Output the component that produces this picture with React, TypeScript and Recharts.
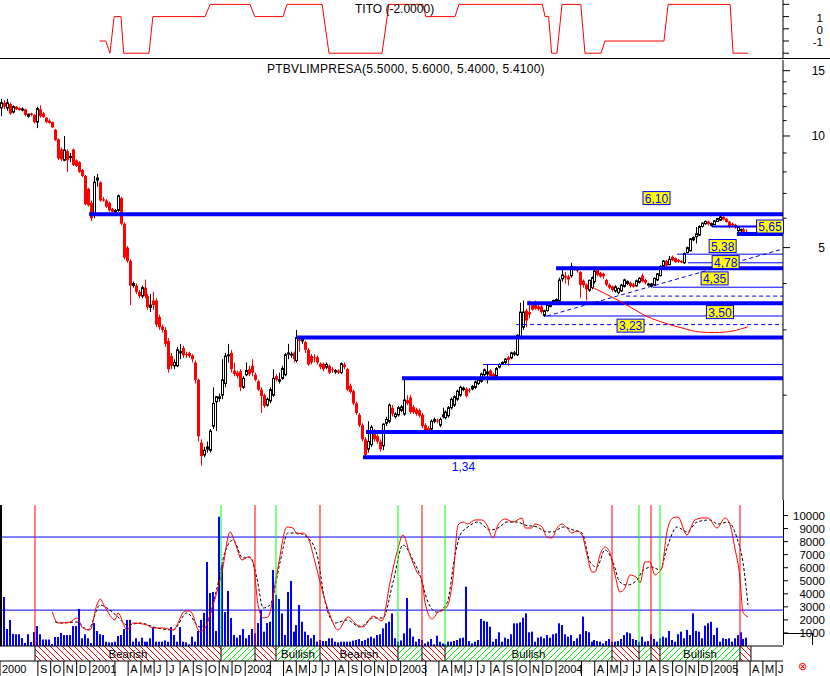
import React from 'react'
import {
  ComposedChart, Bar, Line, XAxis, YAxis, ReferenceLine, ReferenceArea, ReferenceDot,
} from 'recharts'

const FONT = '"Liberation Sans", Arial, Helvetica, sans-serif'
const BLUE = '#0000ff'
const RED = '#ff0000'
const GREEN = '#00ff00'
const W = 830
const AXIS_W = 47
const X_DOMAIN: [number, number] = [-0.5, 262.25]
const PRICE_DOMAIN: [number, number] = [1.043, 16.03]
const OSC_DOMAIN: [number, number] = [-1149, 11188]

// weekly bars, the first one is the week of 4 June 2000
const START = Date.UTC(2000, 5, 4)
const weekOf = (ym: string) => {
  const [y, m] = ym.split('-').map(Number)
  return Math.max(X_DOMAIN[0], (Date.UTC(y, m - 1, 1) - START) / (7 * 86400000) - 0.5)
}

// [open, high, low, close] per week
const candles = [
  [11.9,12.6,11.3,12.3],[12.3,12.5,11.8,12.0],[11.9,12.6,11.7,12.3],[12.2,12.3,11.4,11.5],[11.6,12.1,11.5,12.0],
  [12.0,12.05,11.75,11.8],[11.9,11.95,11.7,11.75],[11.8,11.95,11.65,11.82],[11.8,11.85,11.3,11.4],[11.3,11.5,11.2,11.45],
  [11.5,11.55,11.3,11.4],[11.4,11.45,10.8,10.9],[10.9,12.0,10.5,11.85],[11.8,12.1,11.2,11.3],[11.5,11.6,11.2,11.25],
  [11.2,11.25,10.85,10.9],[11.0,11.1,10.8,10.85],[10.9,10.95,10.5,10.55],[10.4,10.45,9.7,9.75],[9.8,9.85,8.6,8.7],
  [9.2,9.3,8.55,8.65],[8.6,10.0,8.55,9.17],[9.1,9.2,8.0,8.6],[8.75,9.0,8.5,8.8],[9.2,9.25,8.3,8.35],
  [8.6,8.65,8.25,8.3],[8.5,8.55,7.95,8.0],[8.1,8.15,7.75,7.8],[7.8,7.85,6.5,6.55],[7.2,7.25,6.45,6.5],
  [6.6,6.7,5.9,6.0],[6.1,7.8,6.0,7.5],[7.6,7.9,7.3,7.7],[7.5,7.55,6.65,6.7],[6.75,6.85,6.65,6.7],
  [6.7,6.75,6.4,6.45],[6.6,6.65,6.25,6.3],[6.35,6.4,6.2,6.25],[6.25,6.35,6.2,6.3],[6.3,6.95,6.25,6.9],
  [6.8,6.85,5.75,5.8],[5.8,5.85,4.65,4.7],[5.0,5.05,4.55,4.6],[4.6,4.65,3.5,3.95],[3.95,4.05,3.9,4.0],
  [3.95,4.0,3.75,3.8],[3.8,3.85,3.65,3.7],[3.7,3.95,3.65,3.9],[3.9,4.1,3.65,3.7],[3.7,3.75,3.4,3.45],
  [3.45,3.75,3.35,3.5],[3.6,3.8,3.4,3.5],[3.6,3.65,3.05,3.1],[3.25,3.3,3.0,3.05],[3.06,3.1,2.95,3.0],
  [3.0,3.05,2.7,2.75],[2.8,2.85,2.3,2.35],[2.55,2.6,2.35,2.4],[2.4,2.5,2.35,2.45],[2.4,2.7,2.38,2.65],
  [2.6,2.75,2.5,2.62],[2.68,2.72,2.52,2.56],[2.58,2.62,2.52,2.57],[2.6,2.62,2.52,2.55],[2.56,2.58,2.45,2.5],
  [2.45,2.48,2.15,2.2],[2.2,2.22,1.5,1.55],[1.49,1.52,1.29,1.37],[1.38,1.45,1.36,1.42],[1.43,1.5,1.4,1.45],
  [1.42,1.62,1.4,1.6],[1.65,2.1,1.62,1.9],[1.92,1.99,1.6,1.98],[1.96,2.02,1.92,1.98],[2.0,2.5,1.95,2.2],
  [2.15,2.6,2.1,2.55],[2.56,2.75,2.45,2.57],[2.6,2.65,2.3,2.35],[2.33,2.45,2.25,2.28],[2.3,2.33,2.22,2.25],
  [2.32,2.35,2.05,2.1],[2.1,2.25,2.08,2.22],[2.27,2.45,2.25,2.33],[2.35,2.4,2.25,2.28],[2.4,2.5,2.25,2.3],
  [2.27,2.3,2.18,2.2],[2.18,2.2,2.05,2.07],[2.07,2.1,1.79,1.99],[2.0,2.02,1.85,1.87],[1.88,1.97,1.86,1.95],
  [1.93,2.1,1.9,2.07],[2.0,2.35,1.98,2.22],[2.25,2.28,2.18,2.2],[2.18,2.3,2.15,2.2],[2.22,2.4,2.2,2.36],
  [2.27,2.6,2.25,2.57],[2.58,2.75,2.5,2.6],[2.57,2.62,2.52,2.58],[2.6,2.62,2.45,2.5],[2.48,3.0,2.45,2.86],
  [2.82,2.85,2.62,2.8],[2.8,2.88,2.75,2.83],[2.78,2.8,2.6,2.65],[2.65,2.68,2.4,2.42],[2.55,2.58,2.42,2.45],
  [2.53,2.58,2.45,2.52],[2.53,2.56,2.42,2.45],[2.43,2.45,2.35,2.38],[2.43,2.45,2.32,2.35],[2.38,2.45,2.35,2.42],
  [2.4,2.42,2.28,2.3],[2.35,2.38,2.3,2.34],[2.31,2.35,2.28,2.33],[2.33,2.35,2.28,2.3],[2.3,2.45,2.28,2.43],
  [2.42,2.45,2.35,2.38],[2.35,2.37,2.05,2.07],[2.12,2.15,2.02,2.04],[2.05,2.07,1.88,1.9],[1.9,1.92,1.77,1.79],
  [1.77,1.79,1.64,1.66],[1.66,1.68,1.5,1.52],[1.52,1.54,1.36,1.38],[1.43,1.7,1.4,1.5],[1.47,1.66,1.45,1.64],
  [1.6,1.62,1.5,1.52],[1.55,1.57,1.48,1.5],[1.5,1.52,1.41,1.43],[1.46,1.68,1.42,1.67],[1.68,1.75,1.65,1.72],
  [1.7,1.9,1.68,1.88],[1.85,1.88,1.75,1.78],[1.75,1.8,1.73,1.78],[1.77,1.87,1.75,1.85],[1.82,1.88,1.8,1.86],
  [1.78,2.2,1.76,1.94],[1.94,2.0,1.88,1.9],[1.97,2.0,1.78,1.8],[1.86,1.88,1.78,1.8],[1.83,1.85,1.76,1.78],
  [1.82,1.84,1.74,1.76],[1.77,1.79,1.63,1.65],[1.66,1.68,1.58,1.6],[1.63,1.65,1.58,1.6],[1.62,1.72,1.6,1.7],
  [1.7,1.74,1.68,1.72],[1.71,1.73,1.68,1.7],[1.66,1.74,1.64,1.72],[1.75,1.85,1.73,1.77],[1.74,1.82,1.72,1.8],
  [1.76,1.87,1.74,1.85],[1.85,1.97,1.83,1.95],[1.88,2.0,1.86,1.98],[1.95,2.07,1.93,2.05],[2.0,2.12,1.98,2.1],
  [2.07,2.11,2.05,2.09],[2.08,2.1,1.97,1.99],[2.07,2.09,2.03,2.06],[2.08,2.13,2.06,2.11],[2.1,2.19,2.08,2.17],
  [2.15,2.22,2.13,2.2],[2.18,2.3,2.16,2.28],[2.27,2.36,2.25,2.34],[2.28,2.42,2.15,2.31],[2.33,2.35,2.23,2.25],
  [2.28,2.3,2.22,2.24],[2.25,2.38,2.23,2.36],[2.38,2.44,2.36,2.42],[2.44,2.47,2.42,2.45],[2.45,2.52,2.43,2.5],
  [2.53,2.55,2.4,2.49],[2.52,2.62,2.5,2.6],[2.58,2.63,2.55,2.6],[2.57,2.92,2.55,2.9],[2.85,3.55,2.83,3.35],
  [3.05,3.6,3.0,3.35],[3.38,3.42,3.05,3.18],[3.35,3.6,3.22,3.3],[3.5,3.53,3.38,3.4],[3.5,3.6,3.4,3.42],
  [3.47,3.5,3.38,3.41],[3.47,3.5,3.32,3.35],[3.28,3.4,3.25,3.38],[3.38,3.52,3.36,3.5],[3.47,3.57,3.45,3.55],
  [3.52,3.62,3.5,3.6],[3.58,3.65,3.52,3.62],[3.6,4.15,3.55,4.09],[4.12,4.4,4.05,4.22],[4.2,4.3,4.0,4.15],
  [4.18,4.22,3.95,4.1],[4.2,4.55,4.15,4.45],[4.42,4.46,4.33,4.37],[4.4,4.43,4.28,4.33],[4.3,4.32,3.66,3.97],
  [4.07,4.1,3.9,3.96],[3.98,4.0,3.6,3.86],[3.84,4.1,3.8,4.08],[3.9,4.18,3.86,4.15],[4.05,4.36,4.0,4.32],
  [4.35,4.4,4.18,4.22],[4.27,4.3,4.14,4.18],[4.25,4.28,4.12,4.18],[4.09,4.12,3.93,3.97],[3.97,4.0,3.86,3.9],
  [3.93,3.95,3.8,3.84],[3.82,3.96,3.78,3.92],[3.78,3.9,3.74,3.88],[3.82,3.99,3.8,3.96],[3.93,4.12,3.9,4.09],
  [4.0,4.08,3.96,4.05],[4.02,4.05,3.9,3.94],[3.98,4.02,3.9,3.92],[3.94,4.1,3.92,4.07],[4.03,4.16,4.0,4.13],
  [4.2,4.25,4.03,4.05],[4.09,4.12,3.98,4.02],[3.96,4.02,3.93,3.99],[3.93,4.01,3.9,3.99],[3.96,4.15,3.94,4.13],
  [4.09,4.27,4.06,4.25],[4.2,4.48,4.18,4.45],[4.45,4.63,4.42,4.6],[4.6,4.63,4.45,4.47],[4.5,4.75,4.48,4.65],
  [4.72,4.76,4.6,4.62],[4.68,4.7,4.55,4.57],[4.63,4.66,4.55,4.58],[4.6,4.62,4.54,4.56],[4.55,4.85,4.52,4.82],
  [4.85,5.03,4.82,5.0],[4.9,5.3,4.88,5.28],[5.25,5.36,5.2,5.32],[5.35,5.68,5.13,5.45],[5.4,5.74,5.38,5.7],
  [5.7,5.85,5.66,5.82],[5.8,5.92,5.76,5.88],[5.88,5.9,5.74,5.78],[5.74,5.84,5.7,5.8],[5.77,5.93,5.75,5.9],
  [5.88,6.0,5.86,5.99],[5.93,6.12,5.9,6.05],[6.05,6.08,5.92,5.95],[5.98,6.0,5.84,5.86],[5.88,5.9,5.64,5.72],
  [5.8,5.84,5.7,5.75],[5.76,5.8,5.62,5.66],[5.55,5.7,5.5,5.68],[5.55,5.62,5.5,5.6],[5.6,5.66,5.48,5.52],
  [5.5,5.6,5.4,5.41],
]

// weekly volume, read against the lower panel scale
const volumes = [
  7360,3750,1300,2000,920,900,900,610,230,900, 310,1070,1530,900,500,500,500,150,690,690,
  1000,840,840,840,1530,1530,2840,590,900,590, 230,1760,1150,900,840,330,280,280,330,770,
  840,1300,2000,2000,330,590,330,640,330,330, 590,1450,330,330,330,430,330,1450,840,330,
  1450,330,280,130,720,330,1150,
  2000,2530,6440,4060,4140,1150,9910,6200,2600,4220, 2150,840,640,840,1300,590,840,1300,970,1760,
  2760,1100,1760,1860,5830,3910,3600,2500,840,4140, 4980,1100,1600,3140,1860,1100,840,590,840,330,
  460,380,380,590,590,330,280,330,330,330, 330,410,460,530,380,460,590,720,590,840,
  900,1350,1740,1860,2500,590,330,430,970,3680, 1350,720,330,
  540,460,200,330,540,130,790,330,200,130, 330,330,380,460,590,640,4550,380,200,330,
  460,2070,1920,1860,1480,330,540,1050,330,640, 540,900,1740,1740,1810,2170,2500,1050,1100,330,
  640,720,590,840,640,900,
  970,1740,1610,900,720,840,380,590,900,2250, 1150,1050,330,460,380,330,200,380,540,330,
  330,380,540,840,1050,970,540,460,330,720, 330,380,900,540,330,590,720,640,
  1150,460,330,900,1100,590,1230,840,2500,1150, 1100,590,1560,1740,1860,840,1400,330,590,540,
  590,330,590,840,1050,540,640,
]

// TITO indicator, [week, value]
const tito = [
  [32.9,-1],[35,-1],[36.4,-2],[37.8,1],[40.1,1],[41,-2],[49.5,-2],[50.8,1],[68.3,1],[70,2],
  [83.4,2],[85,1],[94.5,1],[95.8,2],[107.6,2],[109.9,-2],[127.7,-2],[130,2],[141.4,2],[142.4,1],
  [152.2,1],[153.5,2],[181.5,2],[182.4,1],[183.6,1],[184.6,-2],[186.4,-2],[188.1,2],[194.4,2],[195.8,-2],
  [201.2,-2],[202.5,-1],[222.3,-1],[223.7,2],[244.5,2],[245.5,-2],[250.5,-2],
]

// oscillator, fast (red) and slow (dashed black), [week, value]
const fastLine = [
  [17.0,2630],[19.0,1760],[23.0,1840],[25.3,2150],[27.3,1380],[29.7,1230],[32.0,3140],[33.1,3600],[34.7,2990],[38.1,2000],
  [39.1,2530],[42.1,1230],[44.1,1760],[48.8,1610],[50.8,1380],[54.2,1380],[57.6,1230],[61.6,2680],[63.3,2680],[66.6,1070],
  [68.3,1380],[71.0,3140],[74.0,5670],[76.7,8740],[78.4,7890],[80.7,6590],[82.7,6820],[84.4,6440],[86.1,3140],[87.8,2150],
  [89.4,2220],[92.5,5670],[95.8,9120],[97.8,9040],[99.2,8580],[101.2,8660],[102.9,8280],[105.2,6440],[106.9,4900],[110.2,2380],
  [112.9,1230],[116.3,2220],[119.3,1610],[121.3,1460],[124.7,2300],[127.7,1920],[130.4,4900],[133.1,7510],[134.7,8510],[137.1,6970],
  [139.4,5670],[141.1,5060],[142.1,3370],[144.5,2070],[146.5,2600],[148.2,2760],[149.8,3140],[151.5,5210],[153.2,9270],[154.9,9500],
  [156.5,9350],[158.9,9660],[161.2,9660],[162.9,9270],[164.9,8280],[166.6,9270],[169.0,9730],[171.6,9500],[174.7,9810],[175.7,9040],
  [178.0,9040],[179.0,9350],[181.4,9120],[183.0,8350],[184.7,8280],[186.4,9040],[188.1,9350],[189.8,9040],[191.4,8660],[193.1,8810],
  [194.8,8510],[196.5,6970],[198.2,5670],[199.2,5670],[200.8,6970],[202.5,7590],[204.2,7130],[205.9,5440],[207.5,4140],[209.2,4440],
  [210.9,5440],[213.3,5210],[214.3,4830],[215.9,6440],[217.6,6440],[219.3,5440],[220.3,5590],[221.6,5980],[223.3,8740],[225.3,9810],
  [227.0,9890],[230.0,8510],[232.7,9660],[235.4,9810],[237.1,9810],[240.1,9040],[242.8,9810],[244.5,9270],[246.1,7510],[247.8,5210],
  [248.8,2600],[249.5,2380],[250.5,2220],
]
const slowLine = [
  [18.0,1840],[20.6,1760],[25.3,1840],[29.0,1230],[33.1,3140],[35.4,2910],[39.1,2220],[42.1,1610],[46.5,1760],[52.2,1380],
  [57.6,1230],[62.2,2530],[66.6,1460],[69.0,1840],[72.3,4440],[75.0,7200],[77.7,8120],[81.0,6740],[83.4,6820],[85.7,5210],
  [87.8,2910],[90.1,3140],[93.5,6440],[96.1,8660],[99.2,8660],[102.5,8350],[105.9,6970],[108.6,3370],[111.9,1760],[115.9,1990],
  [120.3,1460],[124.7,2150],[128.0,2150],[131.4,4900],[134.7,7740],[138.1,6590],[140.4,5440],[143.1,3370],[146.1,2600],[149.5,3290],
  [152.2,6970],[153.9,8510],[156.5,9120],[159.9,9500],[163.9,8890],[166.6,9040],[169.6,9500],[173.0,9500],[175.7,9270],[179.7,9120],
  [183.1,8740],[185.1,8740],[188.4,9120],[191.8,8890],[194.8,8660],[197.5,6440],[199.8,6050],[202.5,7360],[205.2,6440],[207.5,4900],
  [209.9,4670],[213.3,5060],[215.3,5820],[218.3,6050],[221.0,5820],[223.3,7510],[226.7,9120],[230.0,8740],[233.4,9500],[237.8,9660],
  [240.4,9350],[243.8,9500],[246.8,8280],[248.8,6440],[250.5,3140],
]
const oscBands = [8350, 2750]

// buy / sell signals (week) and the trend band they open
const signalWeeks = [11.24, 73.66, 85.07, 92.11, 106.88, 133.05, 141.11, 148.83, 204.87, 213.93, 217.95, 220.97, 247.82]
const signalKinds = ['sell','buy','sell','buy','sell','buy','sell','buy','sell','buy','sell','buy','sell']
const bandNames = ['Bearish','','','Bullish','Bearish','','','Bullish','','','','Bullish','']
const bandEnd = 251.5

// support / resistance levels drawn on the price panel: [from week, price]
const thickLevels = [[29.4,6.15],[99.2,2.86],[134.4,2.22],[122.3,1.59],[121.3,1.36],[186.1,4.40],[176.4,3.54],[246.8,5.44]]
const mediumLevels = [[238.4,5.70]]
const thinLevels = [[161.6,2.42],[226.7,4.80],[230.4,4.55],[218.6,3.91],[182.4,3.27]]
const dashedLevels = [[209.6,3.70],[172.7,3.10]]
const trendLine = [[183.1,3.27],[262.25,4.96]]
const arc = [[198.2,3.91],[204.2,3.70],[210.9,3.46],[216.6,3.26],[222.6,3.13],[228.7,3.03],[234.4,2.96],[239.4,2.95],[245.5,2.98],[250.5,3.06]]
const tags: [string, number, number][] = [
  ['6,10',219.8,6.80],['5,65',257.9,5.70],['5,38',242,5.05],['4,78',243,4.57],['4,35',239.3,4.13],['3,50',241.1,3.35],['3,23',211.1,3.08],
]
const lowNote: [string, number, number] = ['1,34', 155.0, 1.28]

// month axis: [month start, label]
const monthTicks: [string, string][] = [
  ['2000-06','2000'],['2000-09','S'],['2000-10','O'],['2000-11','N'],['2000-12','D'],
  ['2001-01','2001'],['2001-03',''],['2001-04','A'],['2001-05','M'],['2001-06','J'],['2001-07','J'],['2001-08','A'],['2001-09','S'],['2001-10','O'],['2001-11','N'],['2001-12','D'],
  ['2002-01','2002'],['2002-03',''],['2002-04','A'],['2002-05','M'],['2002-06','J'],['2002-07','J'],['2002-08','A'],['2002-09','S'],['2002-10','O'],['2002-11','N'],['2002-12','D'],
  ['2003-01','2003'],['2003-03',''],['2003-04','A'],['2003-05','M'],['2003-06','J'],['2003-07','J'],['2003-08','A'],['2003-09','S'],['2003-10','O'],['2003-11','N'],['2003-12','D'],
  ['2004-01','2004'],['2004-03',''],['2004-04','A'],['2004-05','M'],['2004-06','J'],['2004-07','J'],['2004-08','A'],['2004-09','S'],['2004-10','O'],['2004-11','N'],['2004-12','D'],
  ['2005-01','2005'],['2005-03',''],['2005-04','A'],['2005-05','M'],['2005-06','J'],
]

const candleData = candles.map(([o, h, l, c], w) => ({ w, o, h, l, c }))
const volumeData = volumes.map((v, w) => ({ w, v }))
const titoData = tito.map(([w, v]) => ({ w, v }))
const fastData = fastLine.map(([w, k]) => ({ w, k }))
const slowData = slowLine.map(([w, d]) => ({ w, d }))
const arcData = arc.map(([w, p]) => ({ w, p }))
const tickWeeks = monthTicks.map(([d]) => weekOf(d))
const tickLabel = new Map(monthTicks.map(([d, label]) => [weekOf(d), label]))

const txt = { fontFamily: FONT, fill: '#000' }

function Candle(props: any) {
  const { x, y, width, height, payload } = props
  if (!payload || !isFinite(y) || !isFinite(height)) return null
  const { o, h, l, c } = payload
  const top = Math.log(h)
  const span = top - Math.log(l) || 1
  const py = (v: number) => y + ((top - Math.log(v)) / span) * height
  const cx = Math.round(x + width / 2) + 0.5
  const b0 = py(Math.max(o, c))
  const bh = Math.max(1, py(Math.min(o, c)) - b0)
  if (c >= o) {
    return (
      <g>
        <line x1={cx} x2={cx} y1={y} y2={y + height} stroke="#000" />
        <rect x={cx - 1} y={b0} width={2} height={bh} fill="#fff" stroke="#000" />
      </g>
    )
  }
  return (
    <g>
      <line x1={cx} x2={cx} y1={y} y2={y + height} stroke={RED} />
      <rect x={cx - 1.5} y={b0} width={3} height={bh} fill={RED} />
    </g>
  )
}

function VolumeBar(props: any) {
  const { x, y, width, height } = props
  if (!isFinite(y) || !isFinite(height) || height <= 0) return null
  return <rect x={Math.round(x + width / 2 - 1)} y={y} width={2} height={height} fill={BLUE} />
}

function TitoTick({ x, y, payload }: any) {
  const v = payload.value
  return (
    <g>
      <line x1={x} x2={x + 6} y1={y} y2={y} stroke="#000" />
      {Math.abs(v) < 2 && <text x={x + 40} y={y + 5} textAnchor="end" fontSize={11.5} {...txt}>{v}</text>}
    </g>
  )
}

function PriceTick({ x, y, payload }: any) {
  const major = payload.value % 5 === 0
  return (
    <g>
      <line x1={x} x2={x + (major ? 7 : 3.5)} y1={y} y2={y} stroke="#000" />
      {major && <text x={x + 42} y={y + 4} textAnchor="end" fontSize={12} {...txt}>{payload.value}</text>}
    </g>
  )
}

function OscTick({ x, y, payload }: any) {
  return (
    <g>
      <line x1={x} x2={x + 5} y1={y} y2={y} stroke="#000" />
      <text x={x + 42} y={y + 4} textAnchor="end" fontSize={11.5} {...txt}>{payload.value}</text>
    </g>
  )
}

function MonthTick({ x, y, payload }: any) {
  const label = tickLabel.get(payload.value) ?? ''
  return (
    <g>
      <line x1={x} x2={x} y1={y} y2={y + 15} stroke="#000" />
      {label && <text x={x + 2} y={y + 12} fontSize={11} {...txt}>{label}</text>}
    </g>
  )
}

const tagShape = (text: string) => (p: any) => (
  <g>
    <rect x={p.cx - 13.5} y={p.cy - 6.5} width={27} height={13} fill="#ffff00" stroke={BLUE} />
    <text x={p.cx} y={p.cy + 4.5} textAnchor="middle" fontSize={12} fontFamily={FONT} fill={BLUE}>{text}</text>
  </g>
)

const margin = { top: 0, right: 0, bottom: 0, left: 0 }

export default function App() {
  return (
    <div style={{ position: 'absolute', left: 0, top: 0, width: 830, height: 676, background: '#fff', overflow: 'hidden', fontFamily: FONT }}>
      {/* TITO panel */}
      <div style={{ position: 'absolute', left: 0, top: 0 }}>
        <ComposedChart width={W} height={59} margin={margin} data={titoData}>
          <XAxis type="number" dataKey="w" domain={X_DOMAIN} allowDataOverflow hide />
          <YAxis orientation="right" width={AXIS_W} domain={[-2.475, 2.36]} allowDataOverflow interval={0}
            ticks={[-2, -1, 0, 1, 2]} tick={TitoTick} tickLine={false} tickSize={0} tickMargin={0}
            axisLine={{ stroke: '#000' }} />
          <Line dataKey="v" type="linear" stroke={RED} strokeWidth={1} dot={false} activeDot={false} isAnimationActive={false} />
        </ComposedChart>
      </div>
      <div style={{ position: 'absolute', left: 0, top: 58, width: 830, height: 1, background: '#000' }} />
      <div style={{ position: 'absolute', left: 355, top: 2, fontSize: 12, color: '#000', whiteSpace: 'nowrap' }}>TITO (-2.0000)</div>

      {/* price panel */}
      <div style={{ position: 'absolute', left: 0, top: 60 }}>
        <ComposedChart width={W} height={440} margin={margin} data={candleData}>
          <XAxis type="number" dataKey="w" domain={X_DOMAIN} allowDataOverflow hide />
          <YAxis orientation="right" width={AXIS_W} scale="log" domain={PRICE_DOMAIN} allowDataOverflow interval={0}
            ticks={[2, 3, 4, 5, 6, 7, 8, 9, 10, 11, 12, 13, 14, 15]} tick={PriceTick} tickLine={false}
            tickSize={0} tickMargin={0} axisLine={{ stroke: '#000' }} />
          <Bar dataKey={(d: any) => [d.l, d.h]} barSize={3} shape={Candle} isAnimationActive={false} />
          {thickLevels.map(([w, p], i) => (
            <ReferenceLine key={'t' + i} segment={[{ x: w, y: p }, { x: X_DOMAIN[1], y: p }]} stroke={BLUE} strokeWidth={4} />
          ))}
          {mediumLevels.map(([w, p], i) => (
            <ReferenceLine key={'m' + i} segment={[{ x: w, y: p }, { x: X_DOMAIN[1], y: p }]} stroke={BLUE} strokeWidth={2} />
          ))}
          {thinLevels.map(([w, p], i) => (
            <ReferenceLine key={'n' + i} segment={[{ x: w, y: p }, { x: X_DOMAIN[1], y: p }]} stroke={BLUE} strokeWidth={1} />
          ))}
          {dashedLevels.map(([w, p], i) => (
            <ReferenceLine key={'d' + i} segment={[{ x: w, y: p }, { x: X_DOMAIN[1], y: p }]} stroke={BLUE} strokeWidth={1} strokeDasharray="4 3" />
          ))}
          <ReferenceLine segment={trendLine.map(([x, y]) => ({ x, y }))} stroke={BLUE} strokeWidth={1} strokeDasharray="4 3" />
          <Line data={arcData} dataKey="p" type="monotone" stroke={RED} strokeWidth={1} dot={false} activeDot={false} isAnimationActive={false} />
          {tags.map(([t, w, p]) => (
            <ReferenceDot key={t} x={w} y={p} r={0} shape={tagShape(t)} />
          ))}
          <ReferenceDot x={lowNote[1]} y={lowNote[2]} r={0}
            shape={(p: any) => <text x={p.cx} y={p.cy + 4} textAnchor="middle" fontSize={12} fontFamily={FONT} fill={BLUE}>{lowNote[0]}</text>} />
        </ComposedChart>
      </div>
      <div style={{ position: 'absolute', left: 267, top: 62, fontSize: 12, letterSpacing: 0.25, color: '#000', whiteSpace: 'nowrap' }}>
        PTBVLIMPRESA(5.5000, 5.6000, 5.4000, 5.4100)
      </div>

      {/* oscillator + volume panel */}
      <div style={{ position: 'absolute', left: 0, top: 500 }}>
        <ComposedChart width={W} height={176} margin={margin} data={volumeData}>
          <defs>
            <pattern id="hatchBear" patternUnits="userSpaceOnUse" width="6" height="6">
              <path d="M0,0 L6,6 M-1,5 L1,7 M5,-1 L7,1" stroke={RED} strokeWidth={1} />
            </pattern>
            <pattern id="hatchBull" patternUnits="userSpaceOnUse" width="6" height="6">
              <path d="M0,6 L6,0 M-1,1 L1,-1 M5,7 L7,5" stroke={GREEN} strokeWidth={1} />
            </pattern>
          </defs>
          <XAxis type="number" dataKey="w" domain={X_DOMAIN} allowDataOverflow height={15}
            ticks={tickWeeks} interval={0} tick={MonthTick} tickLine={false} tickSize={0} tickMargin={0}
            axisLine={{ stroke: '#000' }} />
          <YAxis orientation="right" width={AXIS_W} domain={OSC_DOMAIN} allowDataOverflow interval={0}
            ticks={[1000, 2000, 3000, 4000, 5000, 6000, 7000, 8000, 9000, 10000]} tick={OscTick}
            tickLine={false} tickSize={0} tickMargin={0} axisLine={false} />
          {signalWeeks.map((w, i) => (
            <ReferenceArea key={'b' + i} x1={w} x2={signalWeeks[i + 1] ?? bandEnd} y1={OSC_DOMAIN[0]} y2={0}
              fill={signalKinds[i] === 'sell' ? 'url(#hatchBear)' : 'url(#hatchBull)'} fillOpacity={1} stroke="none"
              label={bandNames[i] ? { value: bandNames[i], position: 'center', fontSize: 11.5, fill: '#000', fontFamily: FONT } : undefined} />
          ))}
          <Bar dataKey="v" barSize={2} fill={BLUE} shape={VolumeBar} isAnimationActive={false} />
          {oscBands.map((v) => (
            <ReferenceLine key={v} y={v} stroke={BLUE} strokeWidth={1} />
          ))}
          <Line data={slowData} dataKey="d" type="monotone" stroke="#000" strokeWidth={1} strokeDasharray="3 2" dot={false} activeDot={false} isAnimationActive={false} />
          <Line data={fastData} dataKey="k" type="monotone" stroke={RED} strokeWidth={1} dot={false} activeDot={false} isAnimationActive={false} />
          {signalWeeks.map((w, i) => (
            <ReferenceLine key={'s' + i} segment={[{ x: w, y: 0 }, { x: w, y: 10800 }]}
              stroke={signalKinds[i] === 'sell' ? RED : GREEN} strokeWidth={1} />
          ))}
          {[...signalWeeks, bandEnd].map((w, i) => (
            <ReferenceLine key={'v' + i} segment={[{ x: w, y: OSC_DOMAIN[0] }, { x: w, y: 0 }]} stroke="#000" strokeWidth={1} />
          ))}
          <ReferenceLine y={0} stroke="#000" strokeWidth={1} />
        </ComposedChart>
      </div>
      <div style={{ position: 'absolute', left: 0, top: 505, width: 1.5, height: 141, background: '#000' }} />
      <div style={{ position: 'absolute', left: 783, top: 500, width: 1, height: 145, background: '#000' }} />
      <div style={{ position: 'absolute', left: 783, top: 633, width: 29, height: 11, borderTop: '1px solid #000', borderRight: '1px solid #000' }} />
      <div style={{ position: 'absolute', left: 798, top: 660, fontSize: 11, color: RED }}>⊗</div>
    </div>
  )
}
